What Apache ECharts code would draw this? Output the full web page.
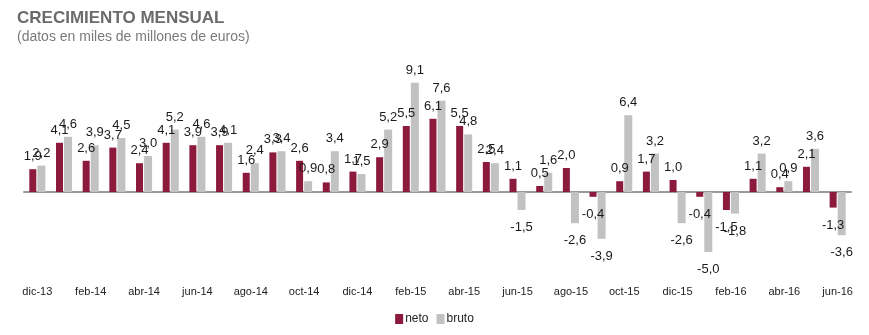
<!DOCTYPE html>
<html>
<head>
<meta charset="utf-8">
<script src="https://cdn.jsdelivr.net/npm/echarts@6/dist/echarts.min.js"></script>
<style>html,body{margin:0;padding:0;background:#fff;}#c{width:869px;height:335px;}</style>
</head>
<body>
<div id="c"></div>
<script>
const categories = ['dic-13','ene-14','feb-14','mar-14','abr-14','may-14','jun-14','jul-14','ago-14','sep-14','oct-14','nov-14','dic-14','ene-15','feb-15','mar-15','abr-15','may-15','jun-15','jul-15','ago-15','sep-15','oct-15','nov-15','dic-15','ene-16','feb-16','mar-16','abr-16','may-16','jun-16'];
const neto  = [1.9,4.1,2.6,3.7,2.4,4.1,3.9,3.9,1.6,3.3,2.6,0.8,1.7,2.9,5.5,6.1,5.5,2.5,1.1,0.5,2.0,-0.4,0.9,1.7,1.0,-0.4,-1.5,1.1,0.4,2.1,-1.3];
const bruto = [2.2,4.6,3.9,4.5,3.0,5.2,4.6,4.1,2.4,3.4,0.9,3.4,1.5,5.2,9.1,7.6,4.8,2.4,-1.5,1.6,-2.6,-3.9,6.4,3.2,-2.6,-5.0,-1.8,3.2,0.9,3.6,-3.6];
const seriesNames = ['neto','bruto'];
const colors = ['#8c1a3c','#c2c2c2'];

function fmt(v){ return v.toFixed(1).replace('.', ','); }
function build(arr){
  return arr.map(v => ({value: v, label: v < 0 ? {position:'bottom', distance:11} : {position:'top', distance:6}}));
}
const chart = echarts.init(document.getElementById('c'), null, {renderer:'canvas'});
const labelStyle = {show:true, fontFamily:'Liberation Sans, Arial, sans-serif', fontSize:13, color:'#1a1a1a', formatter: p => fmt(p.value)};
chart.setOption({
  animation:false,
  backgroundColor:'#fff',
  title:{
    text:'CRECIMIENTO MENSUAL',
    subtext:'(datos en miles de millones de euros)',
    left:12, top:5, itemGap:3,
    textStyle:{fontFamily:'Liberation Sans, Arial, sans-serif', fontSize:17, fontWeight:'bold', color:'#6b6b6b'},
    subtextStyle:{fontFamily:'Liberation Sans, Arial, sans-serif', fontSize:14, color:'#7a7a7a'}
  },
  legend:{
    data:seriesNames, bottom:5, left:'center', itemWidth:8, itemHeight:10, itemGap:8,
    icon:'rect',
    textStyle:{fontFamily:'Liberation Sans, Arial, sans-serif', fontSize:12, color:'#222', padding:[0,0,0,-3]}
  },
  grid:{left:24, right:18, top:72, bottom:71},
  xAxis:[{
    type:'category', data:categories,
    axisLine:{show:false, onZero:false}, axisTick:{show:false},
    axisLabel:{interval:1, margin:22, fontFamily:'Liberation Sans, Arial, sans-serif', fontSize:11, color:'#222'}
  },{
    type:'category', data:categories, position:'bottom',
    axisLine:{show:true, onZero:true, lineStyle:{color:'#9a9a9a', width:2}},
    axisTick:{show:false}, axisLabel:{show:false}
  }],
  yAxis:{type:'value', min:-6, max:10, show:false, splitLine:{show:false}},
  series:[
    {name:seriesNames[0], type:'bar', data:build(neto), barWidth:7, barGap:'15%', itemStyle:{color:colors[0]}, label:labelStyle, z:3},
    {name:seriesNames[1], type:'bar', data:build(bruto), barWidth:8, barGap:'15%', itemStyle:{color:colors[1]}, label:labelStyle, z:3}
  ]
});
</script>
</body>
</html>
